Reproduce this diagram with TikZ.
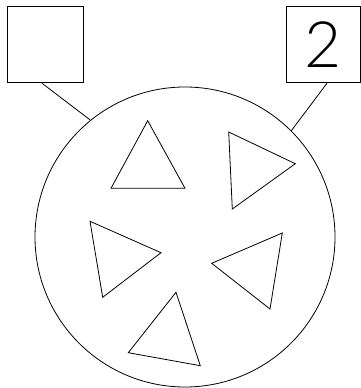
\documentclass[tikz,border=0pt]{standalone}
\usepackage{fontspec}
\newfontfamily\digitfont{Lato}[UprightFont=* Light]
\usepackage{tikz}
\usetikzlibrary{positioning,calc}

\begin{document}
\begin{tikzpicture}[
  x=0.75pt, y=-0.75pt,
  line width=0.6pt,
  answer/.style={
    draw, fill=white, minimum width=57pt, minimum height=57.5pt,
    inner sep=0, font=\digitfont\fontsize{48}{48}\selectfont
  },
  tri/.style={draw, line join=miter},
]
\useasboundingbox (0,0) rectangle (360,388);
% Circle
\node[draw, circle, minimum size=225pt, inner sep=0] (circ) at (185,237) {};
% Boxes
\node[answer] (boxL) at (45,44.5) {};
\node[answer, minimum width=55.5pt] (boxR) at (323,44.5) {2};
% Connectors
\coordinate (hookL) at (circ.129);
\coordinate (hookR) at (circ.45);
\draw (boxL.south) ++(-3,0) coordinate (footL) (footL) -- (hookL);
\draw (boxR.south) ++(4,0) coordinate (footR) (footR) -- (hookR);
% Triangles
\draw[tri] (147.7,120.7) -- (111,188.3) -- (185,188.3) -- cycle;
\draw[tri] (228.7,132) -- (295.3,163.7) -- (232.3,209) -- cycle;
\draw[tri] (90,221.3) -- (161,252.7) -- (102.7,297.3) -- cycle;
\draw[tri] (282.3,233) -- (211.7,263.3) -- (270,309) -- cycle;
\draw[tri] (176,292.3) -- (128.3,352.7) -- (200.3,365.7) -- cycle;
\end{tikzpicture}
\end{document}
